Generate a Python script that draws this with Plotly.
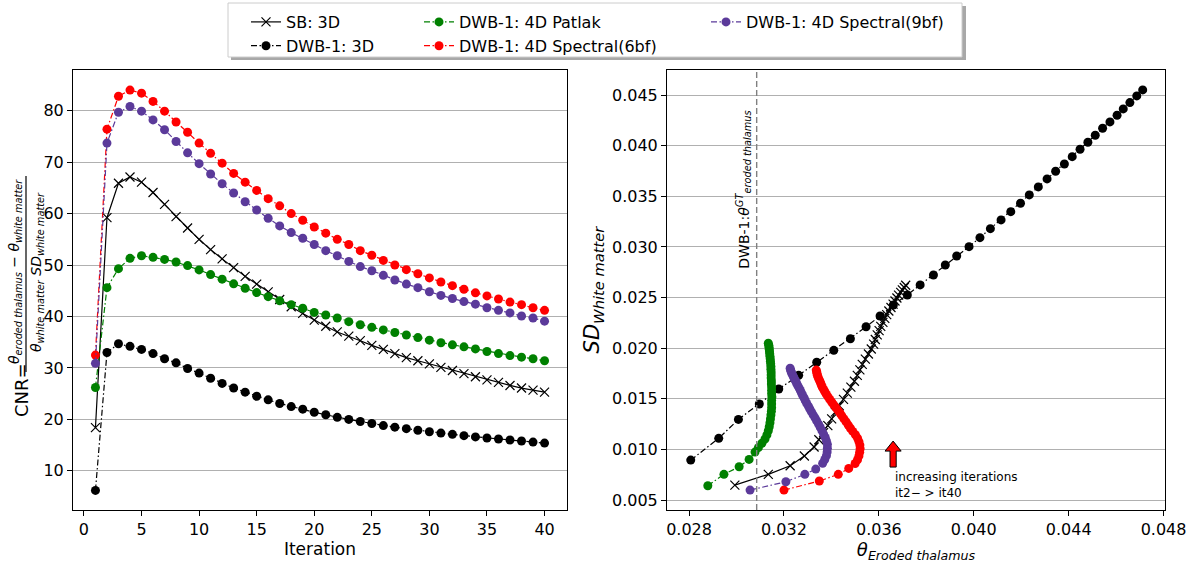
import plotly.graph_objects as go

# ---------------- data: left panel (CNR vs iteration) ----------------
iterations = list(range(1, 41))

cnr_sb_3d = [18.4, 59.2, 65.9, 67.1, 66.1, 64.1, 61.8, 59.4, 57.2, 55.0,
             53.0, 51.2, 49.5, 47.8, 46.3, 44.8, 43.3, 41.9, 40.6, 39.3,
             38.1, 37.0, 36.2, 35.3, 34.4, 33.6, 32.8, 32.0, 31.4, 30.8,
             30.1, 29.5, 28.9, 28.3, 27.7, 27.2, 26.6, 26.1, 25.7, 25.3]
cnr_dwb_3d = [6.2, 33.0, 34.7, 34.2, 33.6, 32.8, 31.8, 31.0, 29.9, 29.0,
              28.0, 27.0, 26.1, 25.3, 24.5, 23.8, 23.1, 22.5, 22.0, 21.4,
              20.9, 20.4, 20.0, 19.6, 19.2, 18.8, 18.5, 18.2, 17.9, 17.6,
              17.35, 17.1, 16.85, 16.6, 16.4, 16.2, 16.0, 15.8, 15.6, 15.4]
cnr_patlak = [26.2, 45.6, 49.3, 51.3, 51.8, 51.5, 51.1, 50.6, 49.9, 49.05,
              48.15, 47.25, 46.35, 45.5, 44.65, 43.85, 43.05, 42.3, 41.6, 40.8,
              40.3, 39.7, 39.0, 38.4, 37.9, 37.4, 36.9, 36.4, 35.9, 35.4,
              34.9, 34.5, 34.1, 33.7, 33.2, 32.8, 32.4, 32.1, 31.8, 31.4]
cnr_spec6 = [32.5, 76.4, 82.8, 84.0, 83.4, 81.8, 79.9, 77.8, 75.8, 73.7,
             71.7, 69.8, 67.8, 66.1, 64.5, 62.9, 61.5, 60.0, 58.7, 57.4,
             56.2, 55.0, 54.0, 52.8, 51.9, 50.9, 50.0, 49.1, 48.3, 47.5,
             46.7, 46.0, 45.3, 44.6, 44.0, 43.4, 42.8, 42.3, 41.7, 41.2]
cnr_spec9 = [30.9, 73.7, 79.7, 80.8, 79.9, 78.2, 76.3, 74.0, 71.8, 69.7,
             67.7, 65.8, 64.0, 62.3, 60.7, 59.1, 57.6, 56.3, 55.2, 54.0,
             52.8, 51.8, 50.7, 49.7, 48.9, 48.0, 47.1, 46.3, 45.6, 44.8,
             44.1, 43.5, 42.9, 42.4, 41.7, 41.2, 40.7, 40.1, 39.7, 39.1]

# ---------------- data: right panel (SD white matter vs theta thalamus), it2..it40 ----------------
th_dwb_3d = [0.02807, 0.02925, 0.03008, 0.03096, 0.03178, 0.03262, 0.03338, 0.03410, 0.03480, 0.03546,
             0.03605, 0.03661, 0.03720, 0.03774, 0.03830, 0.03880, 0.03928, 0.03980, 0.04026, 0.04070,
             0.04115, 0.04156, 0.04197, 0.04234, 0.04272, 0.04309, 0.04345, 0.04382, 0.04415, 0.04448,
             0.04481, 0.04512, 0.04543, 0.04574, 0.04604, 0.04630, 0.04658, 0.04687, 0.04712]
sd_dwb_3d = [0.00895, 0.01110, 0.01297, 0.01449, 0.01597, 0.01732, 0.01861, 0.01979, 0.02094, 0.02212,
             0.02318, 0.02427, 0.02526, 0.02625, 0.02723, 0.02822, 0.02911, 0.03003, 0.03092, 0.03181,
             0.03267, 0.03349, 0.03432, 0.03514, 0.03593, 0.03672, 0.03748, 0.03820, 0.03892, 0.03965,
             0.04034, 0.04104, 0.04173, 0.04235, 0.04301, 0.04364, 0.04426, 0.04492, 0.04551]

th_sb_3d = [0.02993, 0.03134, 0.03226, 0.03286, 0.03327, 0.03347, 0.03367, 0.03385, 0.03401, 0.03416,
            0.03433, 0.03451, 0.03467, 0.03482, 0.03497, 0.03509, 0.03520, 0.03530, 0.03543, 0.03556,
            0.03568, 0.03578, 0.03585, 0.03593, 0.03601, 0.03608, 0.03617, 0.03625, 0.03633, 0.03642,
            0.03651, 0.03660, 0.03668, 0.03676, 0.03683, 0.03692, 0.03699, 0.03707, 0.03713]
sd_sb_3d = [0.00648, 0.00754, 0.00839, 0.00935, 0.01024, 0.01096, 0.01166, 0.01235, 0.01302, 0.01368,
            0.01432, 0.01495, 0.01556, 0.01616, 0.01674, 0.01731, 0.01786, 0.01840, 0.01892, 0.01943,
            0.01992, 0.02040, 0.02086, 0.02131, 0.02174, 0.02216, 0.02256, 0.02295, 0.02332, 0.02368,
            0.02402, 0.02435, 0.02466, 0.02496, 0.02524, 0.02551, 0.02576, 0.02600, 0.02622]

th_patlak = [0.02879, 0.02947, 0.03011, 0.03053, 0.03078, 0.03092, 0.03107, 0.03120, 0.03128, 0.03134,
             0.03138, 0.03141, 0.03143, 0.03145, 0.03147, 0.03148, 0.03148, 0.03148, 0.03149, 0.03148,
             0.03148, 0.03148, 0.03147, 0.03147, 0.03146, 0.03146, 0.03146, 0.03145, 0.03145, 0.03144,
             0.03143, 0.03142, 0.03141, 0.03140, 0.03139, 0.03138, 0.03137, 0.03136, 0.03134]
sd_patlak = [0.00641, 0.00754, 0.00829, 0.00902, 0.00974, 0.01018, 0.01061, 0.01103, 0.01144, 0.01185,
             0.01224, 0.01264, 0.01302, 0.01340, 0.01377, 0.01413, 0.01449, 0.01483, 0.01518, 0.01551,
             0.01584, 0.01616, 0.01647, 0.01677, 0.01707, 0.01736, 0.01765, 0.01792, 0.01819, 0.01846,
             0.01871, 0.01896, 0.01920, 0.01943, 0.01966, 0.01988, 0.02009, 0.02030, 0.02049]

th_spec6 = [0.03200, 0.03349, 0.03429, 0.03473, 0.03500, 0.03510, 0.03516, 0.03519, 0.03521, 0.03520,
            0.03516, 0.03510, 0.03501, 0.03490, 0.03480, 0.03471, 0.03462, 0.03453, 0.03444, 0.03436,
            0.03427, 0.03418, 0.03409, 0.03401, 0.03393, 0.03386, 0.03379, 0.03373, 0.03368, 0.03362,
            0.03358, 0.03355, 0.03351, 0.03347, 0.03344, 0.03341, 0.03339, 0.03338, 0.03336]
sd_spec6 = [0.00599, 0.00688, 0.00754, 0.00813, 0.00861, 0.00898, 0.00936, 0.00972, 0.01008, 0.01043,
            0.01078, 0.01112, 0.01145, 0.01178, 0.01210, 0.01241, 0.01272, 0.01302, 0.01332, 0.01360,
            0.01388, 0.01416, 0.01443, 0.01469, 0.01494, 0.01519, 0.01544, 0.01567, 0.01590, 0.01613,
            0.01634, 0.01655, 0.01676, 0.01695, 0.01714, 0.01733, 0.01751, 0.01768, 0.01784]

th_spec9 = [0.03057, 0.03208, 0.03288, 0.03334, 0.03363, 0.03372, 0.03379, 0.03382, 0.03383, 0.03383,
            0.03379, 0.03374, 0.03367, 0.03360, 0.03353, 0.03346, 0.03338, 0.03331, 0.03323, 0.03316,
            0.03309, 0.03303, 0.03296, 0.03290, 0.03285, 0.03279, 0.03274, 0.03269, 0.03264, 0.03259,
            0.03254, 0.03250, 0.03245, 0.03241, 0.03237, 0.03233, 0.03230, 0.03228, 0.03226]
sd_spec9 = [0.00599, 0.00681, 0.00754, 0.00806, 0.00863, 0.00901, 0.00939, 0.00976, 0.01013, 0.01049,
            0.01084, 0.01118, 0.01152, 0.01186, 0.01218, 0.01250, 0.01282, 0.01312, 0.01342, 0.01371,
            0.01400, 0.01428, 0.01455, 0.01482, 0.01508, 0.01533, 0.01558, 0.01582, 0.01606, 0.01628,
            0.01650, 0.01672, 0.01693, 0.01713, 0.01732, 0.01751, 0.01769, 0.01786, 0.01803]

gt_theta_dwb = 0.03085  # reference value (dashed line)

left_xticks = [0, 5, 10, 15, 20, 25, 30, 35, 40]
left_yticks = [10, 20, 30, 40, 50, 60, 70, 80]
right_xticks = [0.028, 0.032, 0.036, 0.040, 0.044, 0.048]
right_yticks = [0.005, 0.010, 0.015, 0.020, 0.025, 0.030, 0.035, 0.040, 0.045]

# ---------------- styling ----------------
FONT = "DejaVu Sans"
GREEN, RED, PURPLE = "#008000", "#ff0000", "#5b3a9a"
DASHDOT = "6px,2.5px,1.5px,2.5px"
MS = 9
LW = 1.2

W, H = 1195, 563
ML, MR, MT, MB = 73, 30, 70, 53
PW, PH = W - ML - MR, H - MT - MB


def px2paper_x(px):
    return (px - ML) / PW


def px2paper_y(py):
    return (H - MB - py) / PH


series = [
    # name, left y, right x, right y, color, dash, symbol, legend, rank
    ("SB: 3D", cnr_sb_3d, th_sb_3d, sd_sb_3d, "black", "solid", "x-thin", "legend", 1),
    ("DWB-1: 3D", cnr_dwb_3d, th_dwb_3d, sd_dwb_3d, "black", DASHDOT, "circle", "legend", 2),
    ("DWB-1: 4D Patlak", cnr_patlak, th_patlak, sd_patlak, GREEN, DASHDOT, "circle", "legend2", 3),
    ("DWB-1: 4D Spectral(6bf)", cnr_spec6, th_spec6, sd_spec6, RED, DASHDOT, "circle", "legend2", 4),
    ("DWB-1: 4D Spectral(9bf)", cnr_spec9, th_spec9, sd_spec9, PURPLE, DASHDOT, "circle", "legend3", 5),
]

fig = go.Figure()
for name, ly, rx, ry, col, dash, sym, leg, rank in series:
    if sym == "x-thin":
        marker = dict(symbol="x-thin", size=9, color=col, line=dict(width=1.2, color=col))
    else:
        marker = dict(symbol="circle", size=MS, color=col, line=dict(width=0))
    fig.add_trace(go.Scatter(
        x=iterations, y=ly, mode="lines+markers", name=name,
        line=dict(color=col, width=LW, dash=dash), marker=marker,
        legend=leg, legendrank=rank, xaxis="x", yaxis="y"))
    fig.add_trace(go.Scatter(
        x=rx, y=ry, mode="lines+markers", name=name, showlegend=False,
        line=dict(color=col, width=LW, dash=dash), marker=marker,
        xaxis="x2", yaxis="y2"))

axis_common = dict(
    showline=True, linecolor="black", linewidth=1, mirror=True,
    ticks="outside", ticklen=5, tickwidth=1, tickcolor="black",
    tickfont=dict(family=FONT, size=16, color="black"),
    zeroline=False, automargin=False,
)
left_dom = [0, px2paper_x(567)]
right_dom = [px2paper_x(667), 1]

fig.update_layout(
    width=W, height=H, autosize=False,
    margin=dict(l=ML, r=MR, t=MT, b=MB, autoexpand=False),
    paper_bgcolor="white", plot_bgcolor="white",
    font=dict(family=FONT, size=16, color="black"),
    xaxis=dict(axis_common, domain=left_dom, range=[-0.95, 41.95], tickvals=left_xticks,
               showgrid=False,
               title=dict(text="Iteration", font=dict(family=FONT, size=17), standoff=2)),
    yaxis=dict(axis_common, range=[2.4, 87.9], tickvals=left_yticks,
               showgrid=True, gridcolor="#b0b0b0", gridwidth=1),
    xaxis2=dict(axis_common, domain=right_dom, anchor="y2", range=[0.02707, 0.04806],
                tickvals=right_xticks, tickformat=".3f", showgrid=False,
                title=dict(text="<i>θ<sub>Eroded thalamus</sub></i>",
                           font=dict(family=FONT, size=18), standoff=0)),
    yaxis2=dict(axis_common, anchor="x2", range=[0.00402, 0.04748],
                tickvals=right_yticks, tickformat=".3f",
                showgrid=True, gridcolor="#b0b0b0", gridwidth=1,
                title=dict(text="<i>SD<sub>White matter</sub></i>",
                           font=dict(family=FONT, size=21), standoff=6)),
    legend=dict(x=px2paper_x(246), y=px2paper_y(5), xanchor="left", yanchor="top",
                bgcolor="rgba(0,0,0,0)", borderwidth=0, font=dict(family=FONT, size=16)),
    legend2=dict(x=px2paper_x(419), y=px2paper_y(5), xanchor="left", yanchor="top",
                 bgcolor="rgba(0,0,0,0)", borderwidth=0, font=dict(family=FONT, size=16)),
    legend3=dict(x=px2paper_x(706), y=px2paper_y(5), xanchor="left", yanchor="top",
                 bgcolor="rgba(0,0,0,0)", borderwidth=0, font=dict(family=FONT, size=16)),
)

shapes = []
# legend frame with shadow
shapes.append(dict(type="rect", xref="paper", yref="paper", layer="below",
                   x0=px2paper_x(231), x1=px2paper_x(966), y0=px2paper_y(60), y1=px2paper_y(6),
                   fillcolor="#a8a8a8", line=dict(width=0)))
shapes.append(dict(type="rect", xref="paper", yref="paper", layer="below",
                   x0=px2paper_x(228), x1=px2paper_x(962), y0=px2paper_y(57), y1=px2paper_y(3),
                   fillcolor="white", line=dict(color="#cccccc", width=1)))
# ground-truth dashed line
shapes.append(dict(type="line", xref="x2", yref="y2 domain", x0=gt_theta_dwb, x1=gt_theta_dwb,
                   y0=0, y1=1, line=dict(color="#808080", width=1.4, dash="6px,3px")))
# fraction bar of left y label
shapes.append(dict(type="line", xref="paper", yref="paper",
                   x0=px2paper_x(26), x1=px2paper_x(26), y0=px2paper_y(372), y1=px2paper_y(176),
                   line=dict(color="black", width=1.2)))
# red arrow
ax, ay0, ay1 = 0.0366, 0.00826, 0.01083
hw, sw, hh = 0.00034, 0.00013, 0.00099
path = (f"M {ax-sw},{ay0} L {ax-sw},{ay1-hh} L {ax-hw},{ay1-hh} L {ax},{ay1} "
        f"L {ax+hw},{ay1-hh} L {ax+sw},{ay1-hh} L {ax+sw},{ay0} Z")
shapes.append(dict(type="path", xref="x2", yref="y2", path=path, fillcolor="red",
                   line=dict(color="black", width=1)))
fig.update_layout(shapes=shapes)

ann = []
ann.append(dict(xref="paper", yref="paper", x=px2paper_x(21), y=px2paper_y(390),
                text="CNR=", textangle=-90, showarrow=False, xanchor="center", yanchor="middle",
                font=dict(family=FONT, size=18, color="black")))
ann.append(dict(xref="paper", yref="paper", x=px2paper_x(15), y=px2paper_y(272),
                text="<i>θ<sub>eroded thalamus</sub></i> − <i>θ<sub>white matter</sub></i>",
                textangle=-90, showarrow=False, xanchor="center", yanchor="middle",
                font=dict(family=FONT, size=14, color="black")))
ann.append(dict(xref="paper", yref="paper", x=px2paper_x(37), y=px2paper_y(272),
                text="<i>θ<sub>white matter</sub> SD<sub>white matter</sub></i>",
                textangle=-90, showarrow=False, xanchor="center", yanchor="middle",
                font=dict(family=FONT, size=14, color="black")))
ann.append(dict(xref="x2", yref="paper", x=gt_theta_dwb, y=px2paper_y(190), xshift=-13,
                text="DWB-1:<i>θ<sup>GT</sup><sub>eroded thalamus</sub></i>",
                textangle=-90, showarrow=False, xanchor="center", yanchor="middle",
                font=dict(family=FONT, size=14, color="black")))
ann.append(dict(xref="x2", yref="y2", x=0.0366, y=0.00816,
                text="increasing iterations<br>it2− > it40",
                showarrow=False, xanchor="left", yanchor="top", align="left",
                font=dict(family=FONT, size=12, color="black")))
fig.update_layout(annotations=ann)

fig.write_html(
    "out.html",
    config={"displayModeBar": False},
    post_script="document.body.style.margin='0';document.body.style.overflow='hidden';",
)
